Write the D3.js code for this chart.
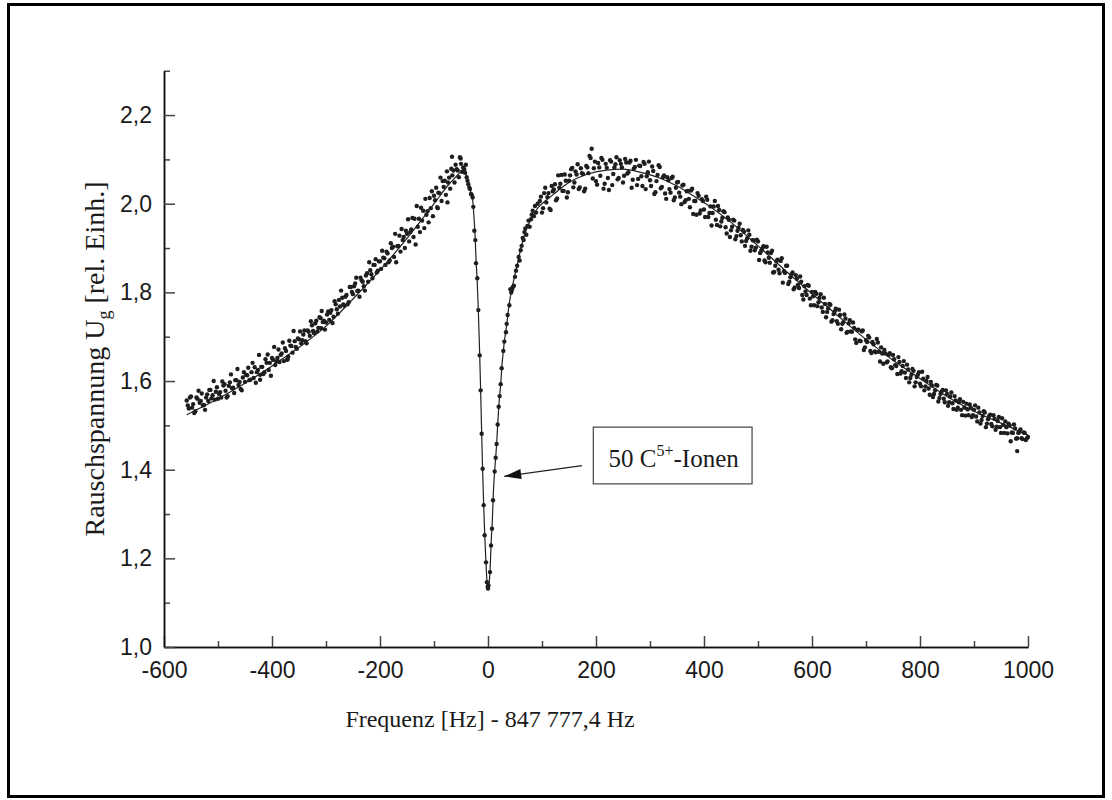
<!DOCTYPE html>
<html lang="de">
<head>
<meta charset="UTF-8">
<title>Rauschspannung 50 C5+ Ionen</title>
<script src="https://d3js.org/d3.v7.min.js"></script>
<style>
  body { margin: 0; background: #fff; }
  svg { display: block; }
  .tick text { font-family: "Liberation Sans", Arial, sans-serif; font-size: 23px; fill: #1a1a1a; }
  .serif { font-family: "Liberation Serif", "Times New Roman", serif; fill: #1a1a1a; }
</style>
</head>
<body>
<svg id="chart" width="1112" height="800"></svg>
<script>
// axis ticks
var xMajor = [-600, -400, -200, 0, 200, 400, 600, 800, 1000];
var xTickLabels = ["-600", "-400", "-200", "0", "200", "400", "600", "800", "1000"];
var xMinor = [-500, -300, -100, 100, 300, 500, 700, 900];
var yMajor = [1.0, 1.2, 1.4, 1.6, 1.8, 2.0, 2.2];
var yTickLabels = ["1,0", "1,2", "1,4", "1,6", "1,8", "2,0", "2,2"];
var yMinor = [1.1, 1.3, 1.5, 1.7, 1.9, 2.1, 2.3];

// fitted curve (Hz offset, rel. units)
var fitFreq = [-558, -500, -450, -400, -350, -300, -250, -200, -150, -100, -75, -60, -50, -45,
  -40, -36, -33, -30, -28, -26, -24, -22, -20, -18, -16, -14, -12, -10, -8, -6, -4, -2, 0,
  2, 4, 6, 8, 10, 12, 14, 16, 18, 20, 22, 24, 26, 28, 30, 34, 37, 40, 43, 48, 52, 57, 64, 70, 80, 92,
  100, 120, 150, 185, 220, 250, 285, 320, 350, 385, 420, 450, 500, 550, 600, 650, 700, 750, 800,
  850, 900, 950, 1000];
var fitVolt = [1.524, 1.560, 1.595, 1.634, 1.676, 1.724, 1.785, 1.850, 1.922, 2.000, 2.040, 2.060, 2.072, 2.075,
  2.064, 2.048, 2.032, 2.016, 2.004, 1.970, 1.930, 1.870, 1.825, 1.762, 1.685, 1.597, 1.496, 1.400, 1.320, 1.252, 1.196, 1.150, 1.133,
  1.142, 1.178, 1.240, 1.285, 1.350, 1.392, 1.424, 1.458, 1.503, 1.543, 1.572, 1.600, 1.638, 1.662, 1.687, 1.720, 1.752, 1.780, 1.800, 1.830, 1.850, 1.878, 1.915, 1.940, 1.965, 1.990,
  2.000, 2.020, 2.048, 2.067, 2.076, 2.078, 2.070, 2.057, 2.040, 2.014, 1.986, 1.958, 1.905, 1.850, 1.797, 1.745, 1.694, 1.647, 1.606,
  1.565, 1.532, 1.505, 1.478];

// measured points, low-frequency wing
var leftWing = [[-558,1.556],[-554,1.538],[-550,1.565],[-546,1.548],[-542,1.532],[-538,1.560],[-534,1.551],[-530,1.572],
  [-526,1.546],[-522,1.563],[-518,1.555],[-514,1.580],[-510,1.568],[-506,1.558],[-502,1.586],[-498,1.571],[-494,1.563],
  [-490,1.590],[-486,1.578],[-482,1.566],[-478,1.597],[-474,1.584],[-470,1.573],[-466,1.602],[-462,1.591],[-458,1.582],
  [-454,1.608],[-450,1.598],[-446,1.613],[-442,1.602],[-438,1.620],[-434,1.607],[-430,1.596],[-426,1.625],[-422,1.614],
  [-418,1.632],[-414,1.620],[-410,1.641],[-406,1.625],[-402,1.612],[-398,1.648],[-394,1.636],[-390,1.652],[-386,1.643],
  [-382,1.662],[-378,1.645],[-374,1.668],[-370,1.655],[-366,1.680],[-362,1.664],[-358,1.690],[-354,1.673],[-350,1.694],
  [-346,1.685],[-342,1.705],[-338,1.690],[-334,1.714],[-330,1.702],[-326,1.726],[-322,1.708],[-318,1.736],[-314,1.720],
  [-310,1.742],[-306,1.733],[-302,1.716],[-298,1.750],[-294,1.738],[-290,1.760],[-286,1.745],[-282,1.773],[-278,1.752],
  [-274,1.768],[-270,1.788],[-266,1.770],[-262,1.794],[-258,1.778],[-254,1.812],[-250,1.796],[-246,1.820],[-242,1.803],
  [-238,1.790],[-234,1.827],[-230,1.814],[-226,1.838],[-222,1.824],[-218,1.850],[-214,1.832],[-210,1.862],[-206,1.845],
  [-202,1.870],[-198,1.853],[-194,1.878],[-190,1.862],[-186,1.888],[-182,1.872],[-178,1.900],[-174,1.880],[-170,1.868],
  [-166,1.905],[-162,1.892],[-158,1.918],[-154,1.900],[-150,1.932],[-146,1.915],[-142,1.942],[-138,1.925],[-134,1.908],
  [-130,1.948],[-126,1.936],[-122,1.962],[-118,1.945],[-114,1.975],[-110,1.958],[-106,1.990],[-102,1.972],[-98,2.008],
  [-94,1.992],[-90,2.024],[-86,2.006],[-82,2.038],[-78,2.020],[-74,2.048],[-70,2.034],[-66,2.064],[-62,2.048],
  [-58,2.078],[-54,2.060],[-50,2.090],[-48,2.072],[-46,2.082],
  [-422,1.603],[-371,1.649],[-309,1.719],[-93,1.990],[-75,2.003],[-66.7,2.106],[-50.6,2.102]];

var leftWing2 = [[-556,1.545],[-552,1.563],[-548,1.540],[-544,1.528],[-540,1.563],[-536,1.578],[-532,1.555],[-528,1.545],
  [-524,1.535],[-520,1.570],[-516,1.580],[-512,1.561],[-508,1.600],[-504,1.576],[-500,1.560],[-496,1.575],[-492,1.599],
  [-488,1.593],[-484,1.563],[-480,1.589],[-476,1.615],[-472,1.585],[-468,1.602],[-464,1.627],[-460,1.598],[-456,1.579],
  [-452,1.620],[-448,1.614],[-444,1.630],[-440,1.603],[-436,1.641],[-432,1.631],[-428,1.620],[-424,1.659],[-420,1.632],
  [-416,1.616],[-412,1.649],[-408,1.660],[-404,1.641],[-400,1.652],[-396,1.677],[-392,1.644],[-388,1.671],[-384,1.659],
  [-380,1.687],[-376,1.674],[-372,1.648],[-368,1.691],[-364,1.679],[-360,1.713],[-356,1.677],[-352,1.696],[-348,1.712],
  [-344,1.692],[-340,1.714],[-336,1.685],[-332,1.711],[-328,1.735],[-324,1.713],[-320,1.730],[-316,1.712],[-312,1.744],
  [-308,1.758],[-304,1.736],[-300,1.732],[-296,1.757],[-292,1.754],[-288,1.731],[-284,1.780],[-280,1.762],[-276,1.783],
  [-272,1.804],[-268,1.773],[-264,1.790],[-260,1.773],[-256,1.812],[-252,1.801],[-248,1.814],[-244,1.833],[-240,1.804],
  [-236,1.833],[-232,1.824],[-228,1.804],[-224,1.843],[-220,1.868],[-216,1.841],[-212,1.862],[-208,1.875],[-204,1.849],
  [-200,1.870],[-196,1.894],[-192,1.877],[-188,1.892],[-184,1.868],[-180,1.911],[-176,1.903],[-172,1.932],[-168,1.904],
  [-164,1.928],[-160,1.943],[-156,1.925],[-152,1.939],[-148,1.965],[-144,1.936],[-140,1.968],[-136,1.966],[-132,1.995],
  [-128,1.966],[-124,1.991],[-120,1.984],[-116,2.011],[-112,1.983],[-108,2.013],[-104,2.028],[-100,2.018],[-96,2.036],
  [-92,2.025],[-88,2.059],[-84,2.051],[-80,2.052],[-76,2.073],[-72,2.059],[-68,2.079],[-64,2.075],[-60,2.088],
  [-56,2.075],[-52,2.105]];

// measured points across the resonance dip
var dipPoints = [[-44,2.078],[-42.5,2.070],[-41,2.088],[-39.5,2.060],[-38,2.052],[-36.4,2.044],[-34.5,2.036],
  [-33.3,2.033],[-31.5,2.022],[-30,2.020],[-28.4,2.014],[-27.2,1.993],[-25.3,1.939],[-23.5,1.918],[-22.2,1.866],
  [-19.8,1.832],[-17.9,1.760],[-15.4,1.658],[-13.6,1.579],[-11.7,1.481],[-9.9,1.402],[-8.0,1.320],[-6.2,1.252],
  [-3.7,1.191],[-1.9,1.146],[-0.5,1.136],[0,1.132],[0.9,1.139],[3.7,1.169],[5.6,1.229],[7.4,1.267],[9.3,1.331],
  [12.3,1.396],[14.2,1.427],[16.0,1.458],[17.9,1.502],[19.8,1.542],[21.6,1.566],[23.5,1.593],[25.3,1.629],
  [28.4,1.668],[30.2,1.689],[33.3,1.710],[34.6,1.729],[36.4,1.749],[39.5,1.771],[41.4,1.807],[43,1.800],
  [44.5,1.806],[46,1.812],[48,1.815],[50,1.835],[51.9,1.849],[54,1.860],[56.8,1.880],[58.5,1.872],[60.5,1.895],
  [62.3,1.905],[64.2,1.923],[66,1.918],[67.5,1.936],[69.1,1.944],[71,1.930],[73,1.950],[75,1.962],[77,1.948],
  [79.6,1.965],[81,1.975],[82.7,1.984],[85,1.972],[87,1.995],[89,1.980],[92,2.000]];

// measured points, high-frequency wing
var rightWing = [[96,2.006],[100,1.980],[104,2.024],[108,2.003],[112,2.024],[116,1.986],[120,2.028],[124,2.044],
  [128,2.012],[132,2.036],[136,2.065],[140,2.029],[144,2.052],[148,2.026],[152,2.064],[156,2.081],[160,2.048],
  [164,2.066],[168,2.033],[172,2.080],[176,2.067],[180,2.034],[184,2.082],[188,2.108],[192,2.124],[196,2.080],
  [200,2.051],[204,2.092],[208,2.063],[212,2.099],[216,2.045],[220,2.081],[224,2.031],[228,2.095],[232,2.067],
  [236,2.089],[240,2.055],[244,2.098],[248,2.082],[252,2.063],[256,2.093],[260,2.071],[264,2.097],[268,2.054],
  [272,2.083],[276,2.042],[280,2.086],[284,2.062],[288,2.094],[292,2.033],[296,2.071],[300,2.053],[304,2.084],
  [308,2.022],[312,2.051],[316,2.087],[320,2.035],[324,2.060],[328,2.023],[332,2.060],[336,2.033],[340,2.058],
  [344,2.008],[348,2.036],[352,2.049],[356,2.016],[360,2.041],[364,2.004],[368,2.028],[372,2.011],[376,2.030],
  [380,1.977],[384,2.006],[388,2.024],[392,1.978],[396,2.010],[400,1.987],[404,2.016],[408,1.970],[412,1.994],
  [416,1.979],[420,2.006],[424,1.952],[428,1.986],[432,1.960],[436,1.983],[440,1.947],[444,1.969],[448,1.925],
  [452,1.948],[456,1.962],[460,1.927],[464,1.946],[468,1.929],[472,1.941],[476,1.905],[480,1.922],[484,1.930],
  [488,1.903],[492,1.917],[496,1.901],[500,1.915],[504,1.889],[508,1.899],[512,1.872],[516,1.903],[520,1.878],
  [524,1.889],[528,1.845],[532,1.860],[536,1.874],[540,1.843],[544,1.877],[548,1.848],[552,1.860],[556,1.819],
  [560,1.834],[564,1.845],[568,1.811],[572,1.831],[576,1.810],[580,1.824],[584,1.784],[588,1.802],[592,1.817],
  [596,1.786],[600,1.801],[604,1.771],[608,1.797],[612,1.778],[616,1.796],[620,1.756],[624,1.774],[628,1.756],
  [632,1.774],[636,1.734],[640,1.751],[644,1.763],[648,1.729],[652,1.749],[656,1.729],[660,1.750],[664,1.709],
  [668,1.730],[672,1.712],[676,1.732],[680,1.694],[684,1.715],[688,1.691],[692,1.712],[696,1.670],[700,1.692],
  [704,1.702],[708,1.668],[712,1.688],[716,1.667],[720,1.695],[724,1.666],[728,1.676],[732,1.639],[736,1.662],
  [740,1.644],[744,1.663],[748,1.629],[752,1.649],[756,1.634],[760,1.654],[764,1.617],[768,1.634],[772,1.619],
  [776,1.637],[780,1.597],[784,1.614],[788,1.623],[792,1.597],[796,1.614],[800,1.594],[804,1.621],[808,1.579],
  [812,1.600],[816,1.583],[820,1.598],[824,1.564],[828,1.579],[832,1.590],[836,1.562],[840,1.576],[844,1.560],
  [848,1.579],[852,1.544],[856,1.565],[860,1.550],[864,1.566],[868,1.535],[872,1.552],[876,1.535],[880,1.553],
  [884,1.522],[888,1.536],[892,1.547],[896,1.519],[900,1.535],[904,1.520],[908,1.540],[912,1.504],[916,1.521],
  [920,1.529],[924,1.504],[928,1.521],[932,1.503],[936,1.523],[940,1.490],[944,1.510],[948,1.496],[952,1.516],
  [956,1.483],[960,1.496],[964,1.504],[968,1.464],[972,1.483],[976,1.493],[980,1.471],[984,1.485],[988,1.471],
  [992,1.484],[996,1.467],[1000,1.474],[980,1.442]];

var rightWing2 = [[98,2.016],[102,1.990],[106,2.036],[110,2.015],[114,1.989],[118,2.040],[122,2.032],[126,2.008],
  [130,2.064],[134,2.045],[138,2.029],[142,2.066],[146,2.014],[150,2.052],[154,2.078],[158,2.037],[162,2.073],
  [166,2.089],[170,2.037],[174,2.069],[178,2.028],[182,2.085],[186,2.069],[190,2.103],[194,2.057],[198,2.095],
  [202,2.043],[206,2.082],[210,2.103],[214,2.034],[218,2.090],[222,2.058],[226,2.098],[230,2.042],[234,2.082],
  [238,2.105],[242,2.058],[246,2.090],[250,2.048],[254,2.101],[258,2.068],[262,2.093],[266,2.036],[270,2.079],
  [274,2.099],[278,2.056],[282,2.085],[286,2.040],[290,2.090],[294,2.062],[298,2.095],[302,2.040],[306,2.074],
  [310,2.026],[314,2.065],[318,2.083],[322,2.038],[326,2.064],[330,2.011],[334,2.053],[338,2.025],[342,2.061],
  [346,2.014],[350,2.048],[354,2.025],[358,1.999],[362,2.043],[366,2.008],[370,2.029],[374,1.992],[378,2.034],
  [382,2.006],[386,1.975],[390,2.018],[394,1.985],[398,2.006],[402,1.970],[406,2.009],[410,1.979],[414,1.951],
  [418,1.994],[422,1.964],[426,1.995],[430,1.949],[434,1.968],[438,1.981],[442,1.933],[446,1.964],[450,1.940],
  [454,1.964],[458,1.920],[462,1.939],[466,1.955],[470,1.915],[474,1.937],[478,1.916],[482,1.940],[486,1.894],
  [490,1.918],[494,1.895],[498,1.919],[502,1.873],[506,1.894],[510,1.904],[514,1.868],[518,1.890],[522,1.867],
  [526,1.894],[530,1.846],[534,1.870],[538,1.851],[542,1.871],[546,1.822],[550,1.844],[554,1.860],[558,1.824],
  [562,1.841],[566,1.807],[570,1.839],[574,1.817],[578,1.836],[582,1.794],[586,1.814],[590,1.794],[594,1.815],
  [598,1.771],[602,1.791],[606,1.801],[610,1.769],[614,1.788],[618,1.766],[622,1.788],[626,1.744],[630,1.764],
  [634,1.772],[638,1.737],[642,1.757],[646,1.735],[650,1.761],[654,1.717],[658,1.733],[662,1.741],[666,1.711],
  [670,1.737],[674,1.711],[678,1.720],[682,1.686],[686,1.716],[690,1.690],[694,1.714],[698,1.676],[702,1.688],
  [706,1.698],[710,1.663],[714,1.683],[718,1.665],[722,1.687],[726,1.644],[730,1.662],[734,1.670],[738,1.642],
  [742,1.659],[746,1.631],[750,1.659],[754,1.636],[758,1.616],[762,1.643],[766,1.622],[770,1.645],[774,1.607],
  [778,1.626],[782,1.607],[786,1.627],[790,1.588],[794,1.609],[798,1.620],[802,1.588],[806,1.605],[810,1.588],
  [814,1.609],[818,1.569],[822,1.590],[826,1.571],[830,1.591],[834,1.554],[838,1.571],[842,1.580],[846,1.552],
  [850,1.571],[854,1.552],[858,1.574],[862,1.537],[866,1.556],[870,1.540],[874,1.559],[878,1.523],[882,1.540],
  [886,1.549],[890,1.523],[894,1.540],[898,1.523],[902,1.545],[906,1.509],[910,1.529],[914,1.512],[918,1.532],
  [922,1.496],[926,1.514],[930,1.524],[934,1.498],[938,1.515],[942,1.497],[946,1.519],[950,1.483],[954,1.501],
  [958,1.509],[962,1.482],[966,1.500],[970,1.484],[974,1.502],[978,1.470],[982,1.483],[986,1.491],[990,1.469],
  [994,1.483],[998,1.471]];

var svg = d3.select("#chart");

// outer frame
svg.append("rect")
  .attr("x", 8.5).attr("y", 4.5)
  .attr("width", 1095).attr("height", 792)
  .attr("fill", "none").attr("stroke", "#000").attr("stroke-width", 3);

var x = d3.scaleLinear().domain([-600, 1000]).range([164, 1028]);
var y = d3.scaleLinear().domain([1.0, 2.3]).range([647, 70.75]);

// minor ticks first, then major ticks with labels
svg.append("g")
  .attr("transform", "translate(0,647)")
  .call(d3.axisBottom(x).tickValues(xMinor).tickFormat("").tickSizeInner(-6).tickSizeOuter(0));
svg.append("g")
  .attr("transform", "translate(164,0)")
  .call(d3.axisLeft(y).tickValues(yMinor).tickFormat("").tickSizeInner(-6).tickSizeOuter(0));

svg.append("g")
  .attr("class", "x-axis")
  .attr("transform", "translate(0,647)")
  .call(d3.axisBottom(x).tickValues(xMajor)
    .tickFormat(function(d, i) { return xTickLabels[i]; })
    .tickSizeInner(-11).tickSizeOuter(0).tickPadding(15));
svg.append("g")
  .attr("class", "y-axis")
  .attr("transform", "translate(164,0)")
  .call(d3.axisLeft(y).tickValues(yMajor)
    .tickFormat(function(d, i) { return yTickLabels[i]; })
    .tickSizeInner(-11).tickSizeOuter(0).tickPadding(12));

svg.selectAll(".domain").attr("stroke", "#111").attr("stroke-width", 1.5);
svg.selectAll(".tick line").attr("stroke", "#444").attr("stroke-width", 1.5);

// axis titles
svg.append("text")
  .attr("class", "serif")
  .attr("x", 490).attr("y", 727)
  .attr("text-anchor", "middle")
  .attr("font-size", 24)
  .text("Frequenz [Hz] - 847 777,4 Hz");

var yTitle = svg.append("text")
  .attr("class", "serif")
  .attr("transform", "translate(104,359) rotate(-90)")
  .attr("text-anchor", "middle")
  .attr("font-size", 28);
yTitle.append("tspan").text("Rauschspannung U");
yTitle.append("tspan").attr("font-size", 18).attr("dy", 6).text("g");
yTitle.append("tspan").attr("dy", -6).text(" [rel. Einh.]");

// fitted curve
var fitData = fitFreq.map(function(f, i) { return [f, fitVolt[i]]; });
var line = d3.line()
  .x(function(d) { return x(d[0]); })
  .y(function(d) { return y(d[1]); })
  .curve(d3.curveMonotoneX);

svg.append("path")
  .datum(fitData)
  .attr("fill", "none")
  .attr("stroke", "#222")
  .attr("stroke-width", 1.2)
  .attr("d", line);

// measured points
var allPoints = leftWing.concat(leftWing2, dipPoints, rightWing, rightWing2);
svg.append("g")
  .selectAll("circle")
  .data(allPoints)
  .join("circle")
  .attr("cx", function(d) { return x(d[0]); })
  .attr("cy", function(d) { return y(d[1]); })
  .attr("r", 2.2)
  .attr("fill", "#1e1e1e");

// annotation box with arrow
var boxX0 = x(195), boxX1 = x(489), boxY0 = y(1.496), boxY1 = y(1.368);
svg.append("rect")
  .attr("x", boxX0).attr("y", boxY0)
  .attr("width", boxX1 - boxX0).attr("height", boxY1 - boxY0)
  .attr("fill", "#fff").attr("stroke", "#444").attr("stroke-width", 1.2);

var label = svg.append("text")
  .attr("class", "serif")
  .attr("x", (boxX0 + boxX1) / 2 + 1).attr("y", y(1.406))
  .attr("text-anchor", "middle")
  .attr("font-size", 25);
label.append("tspan").text("50 C");
label.append("tspan").attr("font-size", 16).attr("dy", -11).text("5+");
label.append("tspan").attr("dy", 11).text("-Ionen");

var tail = [x(174), y(1.409)], tip = [x(30), y(1.385)];
svg.append("line")
  .attr("x1", tail[0]).attr("y1", tail[1])
  .attr("x2", tip[0]).attr("y2", tip[1])
  .attr("stroke", "#222").attr("stroke-width", 1.2);

var ang = Math.atan2(tail[1] - tip[1], tail[0] - tip[0]);
var headLen = 17, headW = 5;
var bx = tip[0] + headLen * Math.cos(ang), by = tip[1] + headLen * Math.sin(ang);
svg.append("path")
  .attr("d", "M" + tip[0] + "," + tip[1] +
    "L" + (bx - headW * Math.sin(ang)) + "," + (by + headW * Math.cos(ang)) +
    "L" + (bx + headW * Math.sin(ang)) + "," + (by - headW * Math.cos(ang)) + "Z")
  .attr("fill", "#111");
</script>
</body>
</html>
